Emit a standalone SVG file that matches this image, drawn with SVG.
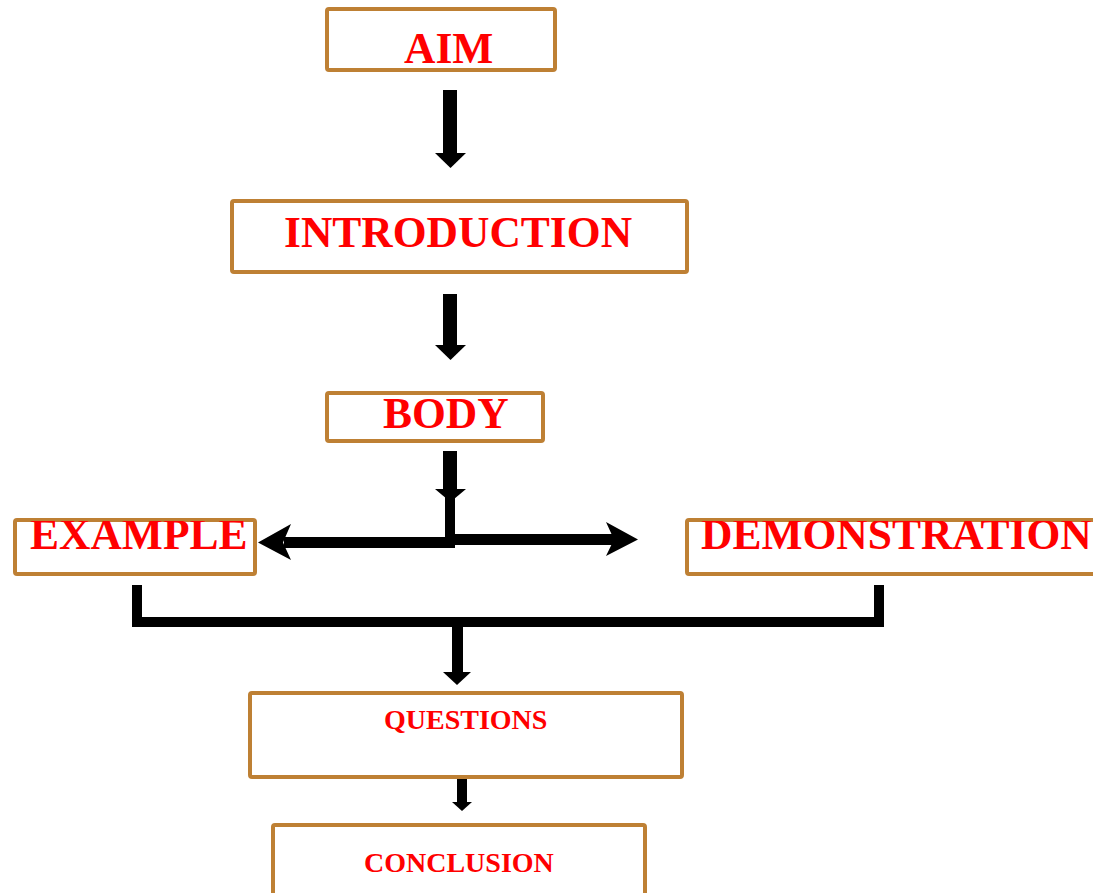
<svg xmlns="http://www.w3.org/2000/svg" width="1093" height="893" viewBox="0 0 1093 893">
<defs>
<style>
.box{fill:#ffffff;stroke:#BE8034;stroke-width:4}
.t{font-family:"Liberation Serif","Times New Roman",serif;font-weight:bold;fill:#FF0000}
.big{font-size:43.5px}
.small{font-size:28px}
.k{fill:#000000}
.ln{stroke:#000000;fill:none}
</style>
<clipPath id="clipEx"><rect x="16" y="521" width="238" height="51"/></clipPath>
<clipPath id="clipDe"><rect x="688" y="521" width="420" height="51"/></clipPath>
</defs>
<rect width="1093" height="893" fill="#ffffff"/>
<g id="connectors">
<rect class="k" x="443" y="90" width="14" height="64"/>
<polygon class="k" points="435,153 466,153 450.5,168"/>
<rect class="k" x="443" y="294" width="14" height="52"/>
<polygon class="k" points="435,345 466,345 450.5,360"/>
<rect class="k" x="443" y="451" width="14" height="40"/>
<polygon class="k" points="435,489 466,489 450.5,502"/>
<rect class="k" x="445" y="489" width="10" height="57"/>
<rect class="k" x="284" y="537" width="171" height="11"/>
<polygon class="k" points="258,542.5 291,524 283,542.5 291,560"/>
<rect class="k" x="450" y="534" width="167" height="11"/>
<polygon class="k" points="638,539.5 606,522 614,539.5 606,556"/>
<path class="ln" d="M137,585 V622 H879 V585" stroke-width="10"/>
<rect class="k" x="452" y="625" width="11" height="48"/>
<polygon class="k" points="443,672 471,672 457,685"/>
<rect class="k" x="457" y="775" width="10" height="28"/>
<polygon class="k" points="452,802 472,802 462,811"/>
</g>
<g id="aim">
<rect class="box" x="327" y="9" width="228" height="61" rx="2"/>
<text class="t big" x="404" y="63">AIM</text>
</g>
<g id="introduction">
<rect class="box" x="232" y="201" width="455" height="71" rx="2"/>
<text class="t big" x="284" y="247">INTRODUCTION</text>
</g>
<g id="body">
<rect class="box" x="327" y="393" width="216" height="48" rx="2"/>
<text class="t big" x="383" y="428">BODY</text>
</g>
<g id="example">
<rect class="box" x="15" y="520" width="240" height="54" rx="2"/>
<text class="t big" x="30" y="549" clip-path="url(#clipEx)">EXAMPLE</text>
</g>
<g id="demonstration">
<rect class="box" x="687" y="520" width="430" height="54" rx="2"/>
<text class="t big" x="701" y="549" clip-path="url(#clipDe)">DEMONSTRATION</text>
</g>
<g id="questions">
<rect class="box" x="250" y="693" width="432" height="84" rx="2"/>
<text class="t small" x="384" y="729">QUESTIONS</text>
</g>
<g id="conclusion">
<rect class="box" x="273" y="825" width="372" height="90" rx="2"/>
<text class="t small" x="364" y="872">CONCLUSION</text>
</g>
</svg>
